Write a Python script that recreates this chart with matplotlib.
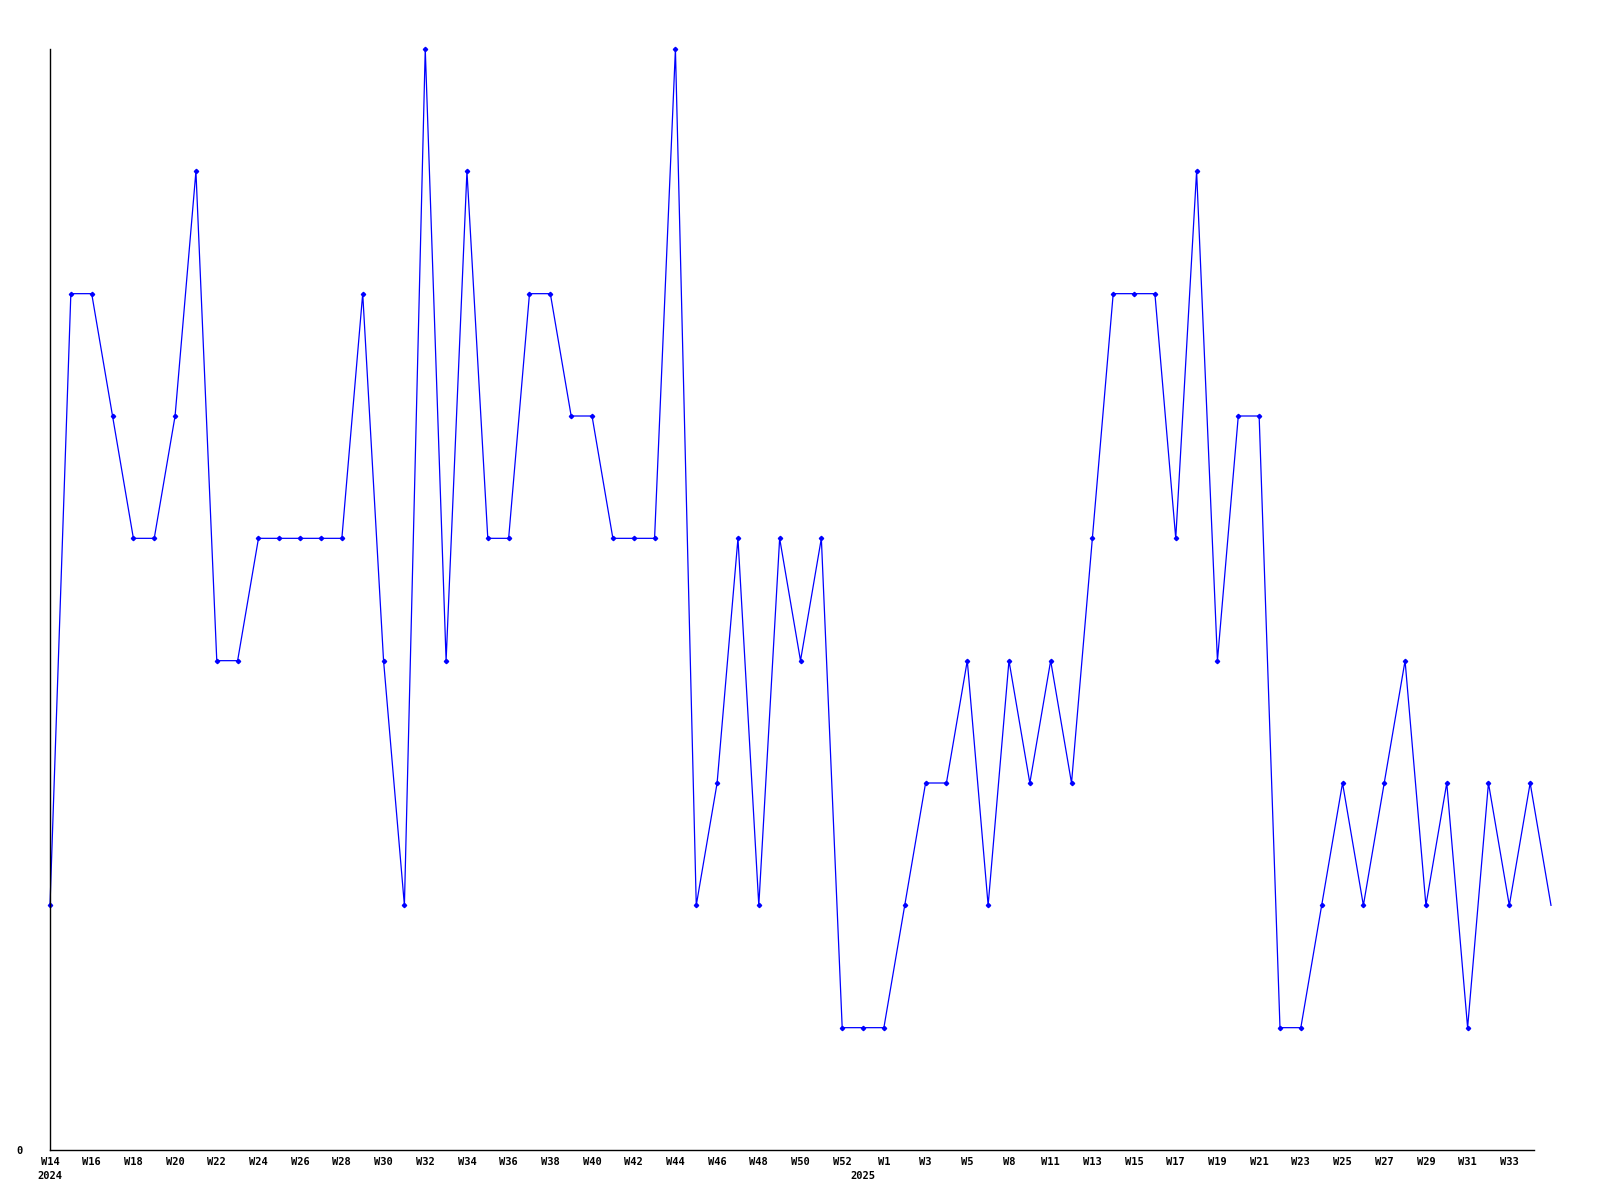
import matplotlib
matplotlib.use("Agg")
import matplotlib.pyplot as plt
import matplotlib.transforms as mtransforms

# weekly counts, W14 2024 .. W34 2025
values = [2, 7, 7, 6, 5, 5, 6, 8, 4, 4,
          5, 5, 5, 5, 5, 7, 4, 2, 9, 4,
          8, 5, 5, 7, 7, 6, 6, 5, 5, 5,
          9, 2, 3, 5, 2, 5, 4, 5, 1, 1,
          1, 2, 3, 3, 4, 2, 4, 3, 4, 3,
          5, 7, 7, 7, 5, 8, 4, 6, 6, 1,
          1, 2, 3, 2, 3, 4, 2, 3, 1, 3,
          2, 3, 2]

tick_labels = ["W14", "W16", "W18", "W20", "W22", "W24", "W26", "W28", "W30",
               "W32", "W34", "W36", "W38", "W40", "W42", "W44", "W46", "W48",
               "W50", "W52", "W1", "W3", "W5", "W8", "W11", "W13", "W15", "W17",
               "W19", "W21", "W23", "W25", "W27", "W29", "W31", "W33"]
year_labels = [("2024", 0), ("2025", 39)]

font = dict(family="DejaVu Sans Mono", weight="bold", size=7.5)

fig = plt.figure(figsize=(16, 12), dpi=100)
ax = fig.add_axes([50 / 1600, 50 / 1200, 1501 / 1600, 1101 / 1200])

x = list(range(len(values)))
ax.plot(x, values, color="#0000ff", linewidth=0.9, marker="D", markersize=2.2,
        markevery=slice(0, len(values) - 1), clip_on=False)

ax.set_xlim(0, len(values) - 1)
ax.set_ylim(0, 9)

for s in ["top", "right"]:
    ax.spines[s].set_visible(False)
ax.spines["left"].set_linewidth(1)
ax.spines["bottom"].set_linewidth(1)
ax.spines["bottom"].set_bounds(0, 71.2)

ax.set_xticks(range(0, 2 * len(tick_labels), 2))
ax.set_xticklabels(tick_labels, **font)
ax.set_yticks([0])
ax.set_yticklabels(["0"], **font)
ax.tick_params(axis="x", length=0, pad=5)
ax.tick_params(axis="y", length=0, pad=20)

trans = mtransforms.blended_transform_factory(ax.transData, ax.transAxes)
for label, pos in year_labels:
    ax.text(pos, -0.0195, label, transform=trans, ha="center", va="top", **font)

fig.savefig("out.png", dpi=100)
